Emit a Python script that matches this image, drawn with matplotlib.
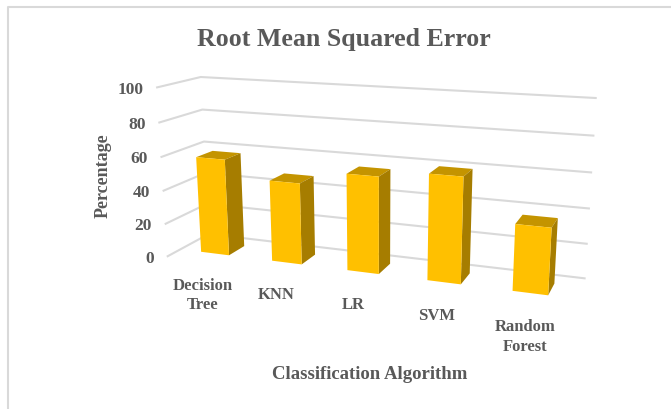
import numpy as np
import matplotlib
matplotlib.use("Agg")
import matplotlib.pyplot as plt
from matplotlib.lines import Line2D
from mpl_toolkits.mplot3d import Axes3D  # noqa: F401

# ---- chart data ----
categories = ["Decision\nTree", "KNN", "LR", "SVM", "Random\nForest"]
rmse_values = [58, 48, 56, 60, 37]
value_ticks = [0, 20, 40, 60, 80, 100]
title_text = "Root Mean Squared Error"
x_title = "Classification Algorithm"
y_title = "Percentage"

# ---- styles ----
TEXT = "#595959"
GRID = "#D9D9D9"
FRONT = "#FFC000"
TOP = "#C49400"
SIDE = "#A67D00"
HIDDEN = (1, 1, 1, 0)
BAR_WIDTH = 0.4
BAR_DEPTH = 0.4
W, H = 671, 410

# ---- camera calibration: (x, depth, value) -> picture pixel ----
camera_world = [
    (0, 0, 0), (0, 0, 100), (0, 0, 60),
    (0, 1, 0), (0, 1, 100), (0, 1, 60),
    (5, 1, 0), (5, 1, 100), (5, 1, 60),
    (.3, .3, 0), (.7, .3, 0), (.7, .7, 0),
    (1.3, .3, 0), (1.7, .3, 0), (1.7, .7, 0),
    (2.3, .3, 0), (2.7, .3, 0), (2.7, .7, 0),
    (3.3, .3, 0), (3.7, .3, 0), (3.7, .7, 0),
    (4.3, .3, 0), (4.7, .3, 0), (4.7, .7, 0),
]
camera_pixels = [
    (167.7, 257.3), (156.7, 88.7), (161.7, 158.3),
    (208.5, 236), (201, 77.7), (204, 142.3),
    (584.3, 279), (595.7, 99), (591, 173.3),
    (201, 252.7), (229.3, 256), (244, 246.7),
    (272, 261.7), (301.7, 265.3), (315, 255),
    (347.3, 271), (379, 275), (390, 265),
    (427.3, 281), (461, 285), (470, 274.3),
    (512.7, 292), (548.3, 296), (554.3, 286),
]


def solve_camera(world, pixels):
    rows, rhs = [], []
    for (X, Y, Z), (u, py) in zip(world, pixels):
        v = H - py
        rows.append([X, Y, Z, 1, 0, 0, 0, 0, -u * X, -u * Y, -u * Z])
        rhs.append(u)
        rows.append([0, 0, 0, 0, X, Y, Z, 1, -v * X, -v * Y, -v * Z])
        rhs.append(v)
    s = np.linalg.lstsq(np.array(rows, float), np.array(rhs, float), rcond=None)[0]
    return np.array([s[:4], s[4:8], [0, 1, 0, 0], [s[8], s[9], s[10], 1.0]])


CAMERA = solve_camera(camera_world, camera_pixels)


def project(X, Y, Z):
    p = CAMERA @ np.array([X, Y, Z, 1.0])
    return p[0] / p[3], p[1] / p[3]


plt.rcParams["font.family"] = ["Liberation Serif", "DejaVu Serif"]
plt.rcParams["font.weight"] = "bold"

fig = plt.figure(figsize=(W / 100, H / 100), dpi=100, facecolor="white")
ax = fig.add_axes([0, 0, 1, 1], projection="3d")
ax.set_axis_off()
ax.set_proj_type("ortho")  # only turns off the perspective clipping of lines
ax.computed_zorder = False


def camera_proj():
    # pixels -> the axes' 2D data coordinates, so the camera above is exact
    inv = ax.transData.inverted().get_matrix()
    T = np.array([[inv[0, 0], inv[0, 1], 0, inv[0, 2]],
                  [inv[1, 0], inv[1, 1], 0, inv[1, 2]],
                  [0, 0, 1, 0],
                  [0, 0, 0, 1]])
    return T @ CAMERA


ax.get_proj = camera_proj

n = len(categories)
for tick in value_ticks:
    ax.plot([0, 0, n], [0, 1, 1], [tick, tick, tick], color=GRID, lw=1.5,
            zorder=1, clip_on=False)
    u, v = project(0, 0, tick)
    fig.text((u - 13.7) / W, (v - 1.5) / H, str(tick), ha="right", va="center",
             fontsize=12.5, color=TEXT)

xpos = np.arange(n) + 0.5 - BAR_WIDTH / 2
face_colors = [HIDDEN, TOP, FRONT, HIDDEN, HIDDEN, SIDE] * n
bars = ax.bar3d(xpos, np.full(n, 0.5 - BAR_DEPTH / 2), np.zeros(n),
                BAR_WIDTH, BAR_DEPTH, rmse_values,
                color=face_colors, shade=False, linewidth=0, zorder=2)
bars.set_clip_on(False)

for i, label in enumerate(categories):
    u, v = project(i + 0.5, 0, 0)
    fig.text(u / W, (v - 16) / H, label, ha="center", va="top", fontsize=12,
             color=TEXT, linespacing=1.3)

fig.text(343.5 / W, 1 - 39.5 / H, title_text, ha="center", va="center",
         fontsize=18.6, color=TEXT)
fig.text(370 / W, 1 - 375 / H, x_title, ha="center", va="center",
         fontsize=13.5, color=TEXT)
fig.text(103.5 / W, 1 - 176 / H, y_title, ha="center", va="center", rotation=90,
         fontsize=13, color=TEXT)

fig.add_artist(Line2D([7.5 / W, 7.5 / W, 1], [0, 1 - 8 / H, 1 - 8 / H],
                      color=GRID, lw=1.5, transform=fig.transFigure))

fig.savefig("out.png", dpi=100)
